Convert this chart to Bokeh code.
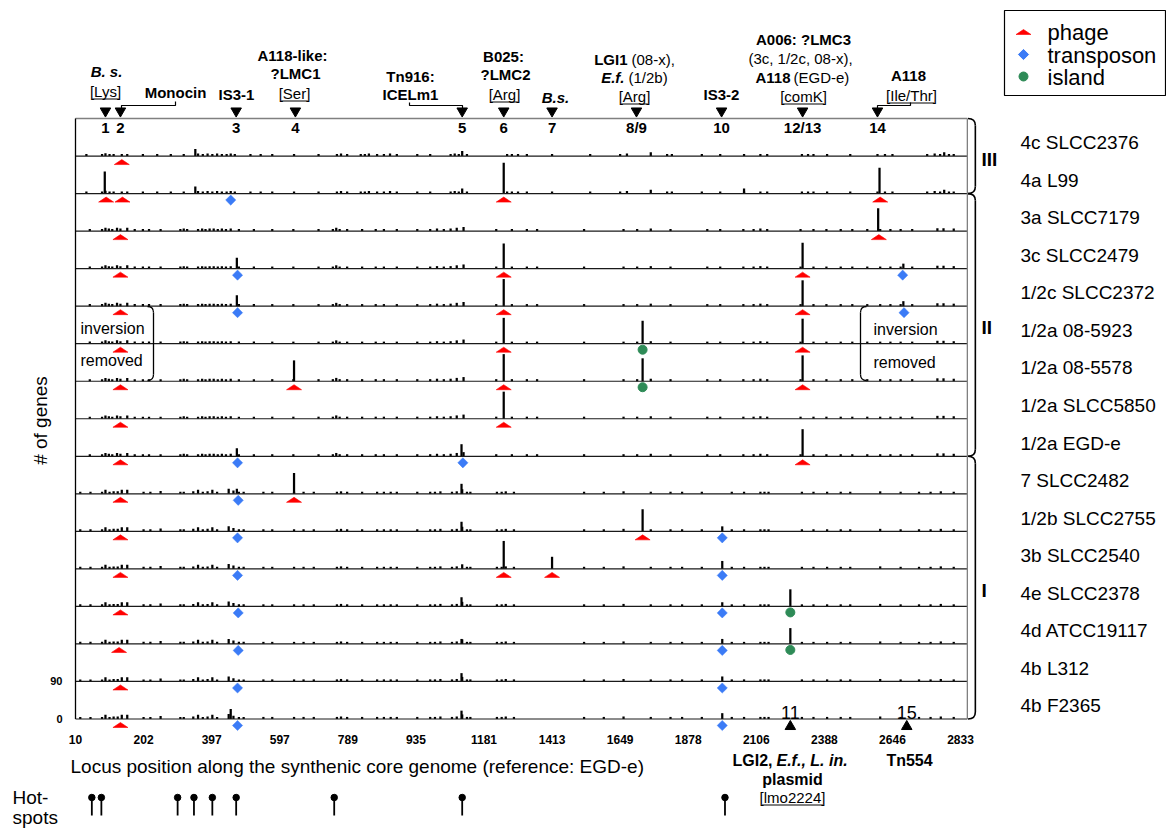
import math
from bokeh.plotting import figure
from bokeh.models import FixedTicker, Range1d
from bokeh.core.properties import value
from bokeh.embed import file_html
from bokeh.resources import INLINE

# ---------------- data ----------------
STRAINS = ["4c SLCC2376", "4a L99", "3a SLCC7179", "3c SLCC2479", "1/2c SLCC2372",
           "1/2a 08-5923", "1/2a 08-5578", "1/2a SLCC5850", "1/2a EGD-e",
           "7 SLCC2482", "1/2b SLCC2755", "3b SLCC2540", "4e SLCC2378",
           "4d ATCC19117", "4b L312", "4b F2365"]
LINEAGES = [("III", 0, 1), ("II", 2, 8), ("I", 9, 15)]
ROW_GENES = 90

TICK_POS = [0, 100, 200, 300, 400, 500, 600, 700, 800, 900, 1000, 1100, 1200, 1300]
TICK_LABELS = ["10", "202", "397", "597", "789", "935", "1181", "1413", "1649",
               "1878", "2106", "2388", "2646", "2833"]
AXIS_END = 1310

# background gene counts (position, # of genes) per lineage
BG_III = [(16,5),(39,5),(44,7),(50,5),(56,5),(68,5),(76,5),(99,5),(120,5),(140,5),(159,5),
          (176,17),(180,6),(187,5),(194,6),(201,5),(208,6),(215,5),(222,5),(228,6),(234,5),
          (257,5),(272,5),(289,5),(321,5),(357,5),(384,5),(390,6),(399,5),(419,5),(425,5),
          (431,6),(443,5),(453,5),(462,6),(472,5),(502,5),(521,5),(551,5),(557,6),(563,5),
          (568,12),(575,5),(634,5),(641,5),(650,5),(663,5),(700,5),(756,5),(800,5),(810,6),
          (845,9),(869,5),(876,5),(920,5),(947,5),(982,5),(1006,5),(1016,5),(1067,5),(1076,5),
          (1084,5),(1104,5),(1138,5),(1178,5),(1189,5),(1200,5),(1251,5),(1262,6),(1270,5),
          (1276,9),(1283,5),(1290,5)]
BG_II = [(21,5),(39,5),(44,8),(49,6),(54,5),(61,8),(66,6),(76,8),(87,5),(99,5),(108,5),
         (125,5),(154,5),(159,6),(164,5),(180,5),(186,6),(191,5),(197,6),(203,6),(209,5),
         (215,6),(221,5),(228,6),(240,5),(262,5),(289,5),(320,5),(357,5),(378,5),(383,8),
         (388,5),(399,5),(421,5),(441,5),(453,5),(472,5),(502,5),(521,5),(531,6),(541,5),
         (551,6),(560,8),(570,10),(618,5),(641,5),(663,5),(678,5),(747,5),(805,5),(825,5),
         (845,6),(874,5),(928,5),(947,5),(981,5),(996,5),(1006,6),(1016,5),(1065,5),(1084,5),
         (1103,5),(1124,5),(1141,5),(1163,5),(1182,5),(1197,5),(1212,5),(1229,5),(1266,7),
         (1275,7),(1290,6)]
BG_I = [(7,5),(22,5),(39,5),(44,10),(50,5),(56,6),(62,6),(68,10),(76,10),(100,5),(110,5),
        (125,7),(154,5),(159,5),(173,6),(180,10),(187,5),(194,6),(201,10),(208,5),(225,12),
        (232,8),(240,5),(247,5),(276,5),(289,5),(321,5),(335,5),(350,5),(384,5),(390,6),
        (399,5),(421,5),(443,5),(453,5),(463,5),(472,5),(502,5),(521,5),(528,5),(536,6),
        (553,5),(560,6),(568,11),(575,5),(580,5),(619,5),(626,5),(632,6),(644,5),(747,5),
        (776,5),(805,6),(845,5),(874,5),(891,5),(920,5),(964,5),(982,5),(1006,5),(1012,5),
        (1018,5),(1067,5),(1084,5),(1104,5),(1124,5),(1138,5),(1182,6),(1212,5),(1239,5),
        (1256,5),(1271,6),(1290,5)]

# strain specific gene counts at hotspots (position, # of genes)
SPIKES = {
    0: [],
    1: [(43, 53), (629, 74), (1181, 62), (982, 12)],
    2: [(1179, 55)],
    3: [(237, 26), (629, 60), (1068, 62), (1216, 12)],
    4: [(237, 26), (629, 65), (1068, 62), (1216, 12)],
    5: [(629, 62), (833, 55), (1068, 60)],
    6: [(321, 50), (629, 65), (833, 55), (1068, 62)],
    7: [(629, 65)],
    8: [(237, 19), (567, 29), (1068, 65)],
    9: [(321, 50), (567, 24), (237, 12)],
    10: [(833, 53), (950, 12), (567, 23)],
    11: [(629, 67), (700, 29), (950, 19)],
    12: [(1050, 41), (950, 10), (567, 22)],
    13: [(1050, 38), (950, 12), (567, 12)],
    14: [(950, 12), (567, 20)],
    15: [(950, 14), (228, 24), (567, 20)],
}

PHAGE = {0: [68], 1: [45, 69, 629, 1182], 2: [66, 1180], 3: [66, 629, 1068],
         4: [66, 629, 1068], 5: [66, 629, 1068], 6: [66, 321, 629, 1068], 7: [66, 629],
         8: [66, 1068], 9: [66, 321], 10: [66, 833], 11: [66, 629, 700], 12: [66],
         13: [64], 14: [66], 15: [66]}
TRANSPOSON = {1: [228], 3: [238, 1215], 4: [238, 1217], 8: [238, 569], 9: [239],
              10: [238, 950], 11: [238, 950], 12: [239, 950], 13: [239, 950],
              14: [238, 950], 15: [238, 950]}
ISLAND = {5: [833], 6: [833], 12: [1050], 13: [1050]}

HS_TOP_LABELS = ["1", "2", "3", "4", "5", "6", "7", "8/9", "10", "12/13", "14"]
HS_TOP_POS = [44, 66, 236, 323, 568, 629, 700, 824, 949, 1068, 1178]
HS_BOTTOM_LABELS = ["11", "15"]
HS_BOTTOM_POS = [1050, 1221]
HOTSPOT_POS = [24, 38, 150, 174, 201, 236, 380, 568, 954]

RED, BLUE, GREEN = "#ff0000", "#3b7bf6", "#2e8b57"
FONT = "Liberation Sans"

# ---------------- layout helpers (page pixel -> data) ----------------
W, H = 1166, 828
PX0, XS = 75.0, 0.6808          # page x of data x=0, px per position unit
PY0, YS = 718.5, 37.53 / 90.0   # page y of data y=0, px per gene


def dx(px):
    return (px - PX0) / XS


def dy(py):
    return (PY0 - py) / YS


def gx(n):
    return n / XS


def gy(n):
    return n / YS


p = figure(width=W, height=H, x_range=Range1d(dx(0), dx(W)),
           y_range=Range1d(dy(H), dy(0)), output_backend="svg",
           toolbar_location=None, min_border=0)
p.outline_line_color = None
p.grid.visible = False

# axes
p.xaxis.fixed_location = dy(726)
p.xaxis.ticker = FixedTicker(ticks=TICK_POS)
p.xaxis.major_label_overrides = {t: l for t, l in zip(TICK_POS, TICK_LABELS)}
p.yaxis.fixed_location = 0
p.yaxis.ticker = FixedTicker(ticks=[0, ROW_GENES])
for ax in (p.xaxis, p.yaxis):
    ax.axis_line_color = None
    ax.major_tick_line_color = None
    ax.minor_tick_line_color = None
    ax.major_label_text_font = FONT
    ax.major_label_text_font_style = "bold"
    ax.major_label_text_color = "black"
p.xaxis.major_label_text_font_size = "12px"
p.xaxis.major_label_standoff = 2
p.yaxis.major_label_text_font_size = "11px"
p.yaxis.major_label_standoff = 7

n_rows = len(STRAINS)
bases = [(n_rows - 1 - i) * ROW_GENES for i in range(n_rows)]
TOP = n_rows * ROW_GENES


def bg_for(i):
    for name, a, b in LINEAGES:
        if a <= i <= b:
            return {"III": BG_III, "II": BG_II, "I": BG_I}[name]


# bars
bx, bb, bt = [], [], []
for i in range(n_rows):
    for x, h in bg_for(i) + SPIKES[i]:
        bx.append(x)
        bb.append(bases[i])
        bt.append(bases[i] + h)
p.vbar(x=bx, bottom=bb, top=bt, width=3.3, fill_color="black", line_color=None)

# frame and baselines
p.segment(x0=[0] * n_rows, y0=bases, x1=[AXIS_END] * n_rows, y1=bases,
          line_color="#1a1a1a", line_width=1.2)
p.segment(x0=[0, AXIS_END], y0=[TOP, 0], x1=[AXIS_END, AXIS_END], y1=[TOP, TOP],
          line_color="#808080", line_width=1.3)
p.segment(x0=[0], y0=[0], x1=[0], y1=[TOP], line_color="black", line_width=1.3)

# lineage braces
bxr = AXIS_END + gx(8)
rad = gy(7)
for name, a, b in LINEAGES:
    yt, yb = bases[a] + ROW_GENES, bases[b]
    p.quadratic(x0=[AXIS_END + 1, bxr], y0=[yt, yb + rad], x1=[bxr, AXIS_END + 1],
                y1=[yt - rad, yb], cx=[bxr, bxr], cy=[yt, yb],
                line_color="black", line_width=1.6)
    p.segment(x0=[bxr], y0=[yt - rad], x1=[bxr], y1=[yb + rad],
              line_color="black", line_width=1.6)

# phage triangles (flat)
hw, ya, yb_ = gx(7.5), gy(3.5), gy(8.5)
txs, tys = [], []
for i, xs in PHAGE.items():
    for x in xs:
        txs.append([x - hw, x + hw, x])
        tys.append([bases[i] - yb_, bases[i] - yb_, bases[i] - ya])
p.patches(xs=txs, ys=tys, fill_color=RED, line_color=RED, line_width=0.6)

# transposons
dxs, dys = [], []
for i, xs in TRANSPOSON.items():
    for x in xs:
        dxs.append(x)
        dys.append(bases[i] - gy(6.5))
p.scatter(x=dxs, y=dys, marker="square", size=7.2, angle=math.pi / 4,
          fill_color=BLUE, line_color=BLUE, line_width=0.5)

# islands
cxs, cys = [], []
for i, xs in ISLAND.items():
    for x in xs:
        cxs.append(x)
        cys.append(bases[i] - gy(6))
p.scatter(x=cxs, y=cys, marker="circle", size=9, fill_color=GREEN, line_color=GREEN)


def txt(xs, ys, texts, size, style="normal", align="center", baseline="middle", angle=0.0):
    p.text(x=xs, y=ys, text=texts, text_font=value(FONT), text_font_size=f"{size}px",
           text_font_style=style, text_align=align, text_baseline=baseline,
           text_color="black", angle=angle)


CW = {'[': .278, ']': .278, 'L': .556, 'y': .5, 's': .5, 'S': .667, 'e': .556, 'r': .333,
      'A': .667, 'g': .556, 'c': .5, 'o': .556, 'm': .833, 'K': .667, 'I': .278, 'l': .222,
      '/': .278, 'T': .611, 'h': .556, '2': .556, '4': .556}


def underlined(label, px, py, size=15):
    txt([dx(px)], [dy(py)], [label], size)
    w = sum(CW.get(ch, .556) for ch in label) * size
    p.segment(x0=[dx(px - w / 2 + 2.5)], y0=[dy(py + 7.5)], x1=[dx(px + w / 2 - 2.5)],
              y1=[dy(py + 7.5)], line_color="black", line_width=1)


# hotspot markers on top and bottom
p.scatter(x=HS_TOP_POS, y=[dy(110.5)] * len(HS_TOP_POS), marker="inverted_triangle",
          size=10.5, color="black")
txt(HS_TOP_POS, [dy(127)] * len(HS_TOP_POS), HS_TOP_LABELS, 15, "bold")
p.scatter(x=HS_BOTTOM_POS, y=[dy(726)] * 2, marker="triangle", size=10.5, color="black")
txt(HS_BOTTOM_POS, [dy(712)] * 2, HS_BOTTOM_LABELS, 18)

# connector lines
for pts in ([(121, 111), (121, 105), (175, 105), (175, 101)],
            [(409, 102), (409, 105), (462, 105), (462, 111)],
            [(877, 111), (877, 105), (910, 105), (910, 102)]):
    p.line(x=[dx(a) for a, _ in pts], y=[dy(b) for _, b in pts], line_color="black",
           line_width=1.2)

# top annotations
bold_c = [("Monocin", 175, 92), ("IS3-1", 236, 94), ("A118-like:", 292, 55),
          ("?LMC1", 295, 73), ("Tn916:", 410, 76), ("ICELm1", 410, 94), ("B025:", 503, 56),
          ("?LMC2", 505, 74), ("IS3-2", 721, 94), ("A006: ?LMC3", 803, 39), ("A118", 908, 75)]
txt([dx(a) for _, a, _ in bold_c], [dy(b) for _, _, b in bold_c], [t for t, _, _ in bold_c],
    15, "bold")
txt([dx(106), dx(555)], [dy(71), dy(97)], ["B. s.", "B.s."], 15, "bold italic")
txt([dx(627), dx(790)], [dy(59), dy(77)], ["LGI1", "A118"], 15, "bold", align="right")
txt([dx(624)], [dy(77)], ["E.f."], 15, "bold italic", align="right")
txt([dx(631), dx(628), dx(793)], [dy(59), dy(77), dy(77)], ["(08-x),", "(1/2b)", "(EGD-e)"],
    15, align="left")
txt([dx(800)], [dy(58)], ["(3c, 1/2c, 08-x),"], 15)
for lab, a, b in [("[Lys]", 105, 91), ("[Ser]", 294, 93), ("[Arg]", 504, 94),
                  ("[Arg]", 634, 96), ("[comK]", 803, 96), ("[Ile/Thr]", 911, 95)]:
    underlined(lab, a, b)

# bottom annotations
txt([dx(772)], [dy(760)], ["LGI2,"], 16, "bold", align="right")
txt([dx(776)], [dy(760)], ["E.f., L. in."], 16, "bold italic", align="left")
txt([dx(792), dx(909)], [dy(779), dy(760)], ["plasmid", "Tn554"], 16, "bold")
underlined("[lmo2224]", 792, 797)
txt([dx(70)], [dy(766)], ["Locus position along the synthenic core genome (reference: EGD-e)"],
    19, align="left")
txt([dx(12), dx(12)], [dy(797), dy(817)], ["Hot-", "spots"], 19, align="left")
txt([dx(40)], [dy(420)], ["# of genes"], 19, angle=math.pi / 2)

# hot-spot lollipops
p.segment(x0=HOTSPOT_POS, y0=[dy(797)] * len(HOTSPOT_POS), x1=HOTSPOT_POS,
          y1=[dy(815)] * len(HOTSPOT_POS), line_color="black", line_width=1.8)
p.scatter(x=HOTSPOT_POS, y=[dy(797)] * len(HOTSPOT_POS), marker="circle", size=6.5,
          color="black")

# inversion removed brackets
for xb, xe in ((153, 147), (860, 866)):
    p.quadratic(x0=[dx(xe), dx(xb)], y0=[dy(306), dy(374)], x1=[dx(xb), dx(xe)],
                y1=[dy(312), dy(380)], cx=[dx(xb), dx(xb)], cy=[dy(306), dy(380)],
                line_color="black", line_width=1.3)
    p.segment(x0=[dx(xb)], y0=[dy(312)], x1=[dx(xb)], y1=[dy(374)], line_color="black",
              line_width=1.3)
txt([dx(80), dx(80), dx(873), dx(873)], [dy(328), dy(360), dy(329), dy(362)],
    ["inversion", "removed", "inversion", "removed"], 16, align="left")

# strain and lineage labels
txt([dx(1020)] * n_rows, [b + ROW_GENES / 2 - gy(5.5) for b in bases], STRAINS, 19,
    align="left")
txt([dx(981)] * 3, [(bases[a] + ROW_GENES + bases[b]) / 2 - gy(3) for _, a, b in LINEAGES],
    [n for n, _, _ in LINEAGES], 19, "bold", align="left")

# legend
p.quad(left=[dx(1004)], right=[dx(1165)], top=[dy(10)], bottom=[dy(95)], fill_color="white",
       line_color="black", line_width=1.2)
p.patches(xs=[[dx(1015.5), dx(1030.5), dx(1023)]], ys=[[dy(34), dy(34), dy(29)]],
          fill_color=RED, line_color=RED, line_width=0.6)
p.scatter(x=[dx(1023)], y=[dy(54)], marker="square", size=7.2, angle=math.pi / 4,
          fill_color=BLUE, line_color=BLUE)
p.scatter(x=[dx(1023)], y=[dy(76)], marker="circle", size=9, fill_color=GREEN,
          line_color=GREEN)
txt([dx(1047)] * 3, [dy(32), dy(55), dy(77)], ["phage", "transposon", "island"], 22,
    align="left")

open("out.html", "w").write(file_html(p, INLINE))
